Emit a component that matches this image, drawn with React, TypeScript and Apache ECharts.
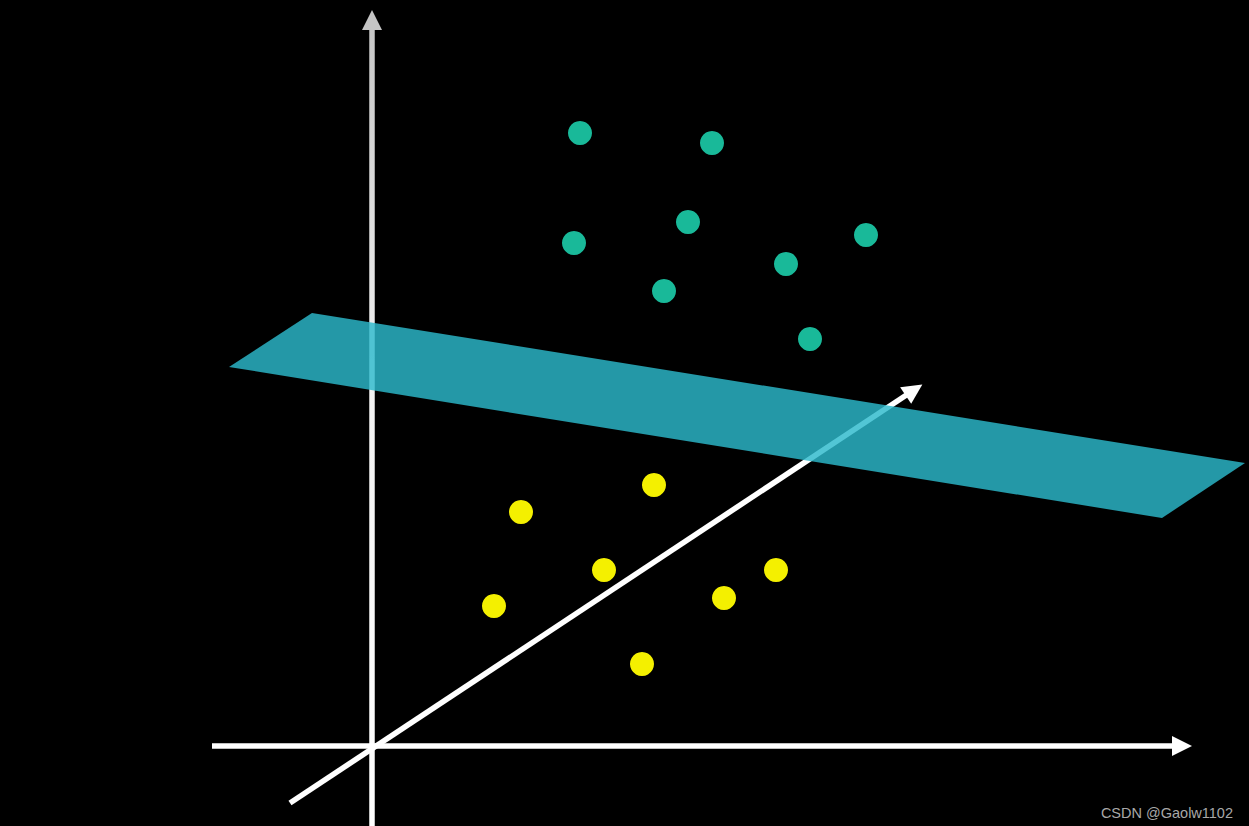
import React, { useEffect, useRef } from "react";
import * as echarts from "echarts";

// Data (pixel-space coordinates of the conceptual figure)
const tealX = [580, 712, 688, 574, 866, 786, 664, 810];
const tealY = [133, 143, 222, 243, 235, 264, 291, 339];
const yellowX = [654, 521, 604, 776, 494, 724, 642];
const yellowY = [485, 512, 570, 570, 606, 598, 664];
const planeX = [312, 1245, 1162, 229];
const planeY = [313, 463, 518, 367];
const axisStartX = [372, 212, 290];
const axisStartY = [826, 746, 803];
const axisEndX = [372, 1182, 914];
const axisEndY = [20, 746, 390];

const W = 1249;
const H = 826;

export default function App() {
  const ref = useRef<HTMLDivElement>(null);
  useEffect(() => {
    document.body.style.margin = "0";
    document.body.style.background = "#000";
    const chart = echarts.init(ref.current!, null, { renderer: "svg" });
    const vGrad = new echarts.graphic.LinearGradient(
      0, 10, 0, 826,
      [
        { offset: 0, color: "#c4c4c4" },
        { offset: 0.45, color: "#f2f2f2" },
        { offset: 1, color: "#ffffff" },
      ],
      true
    );
    const axisData = axisStartX.map((x, i) => ({
      coords: [
        [x, axisStartY[i]],
        [axisEndX[i], axisEndY[i]],
      ],
      lineStyle: i === 0 ? { color: vGrad } : { color: "#ffffff" },
    }));
    chart.setOption({
      animation: false,
      backgroundColor: "#000000",
      grid: { left: 0, right: 0, top: 0, bottom: 0 },
      xAxis: { type: "value", min: 0, max: W, show: false },
      yAxis: { type: "value", min: 0, max: H, inverse: true, show: false },
      graphic: [
        {
          type: "text",
          right: 16,
          bottom: 6,
          style: {
            text: "CSDN @Gaolw1102",
            fill: "#a8a8a8",
            font: "14.5px 'Liberation Sans', Arial, sans-serif",
          },
        },
      ],
      series: [
        {
          type: "lines",
          coordinateSystem: "cartesian2d",
          symbol: ["none", "triangle"],
          symbolSize: [18, 20],
          lineStyle: { width: 5.5, opacity: 1, curveness: 0 },
          data: axisData,
          z: 1,
        },
        {
          type: "custom",
          data: planeX.map((x, i) => [x, planeY[i]]),
          renderItem: (params: any, api: any) => {
            if (params.dataIndex !== 0) return null;
            const pts = planeX.map((x, i) => api.coord([x, planeY[i]]));
            return {
              type: "polygon",
              shape: { points: pts },
              style: { fill: "rgba(44,186,204,0.82)" },
            };
          },
          z: 2,
        },
        {
          type: "scatter",
          data: tealX.map((x, i) => [x, tealY[i]]),
          symbolSize: 24,
          itemStyle: { color: "#19b999", opacity: 1 },
          z: 3,
        },
        {
          type: "scatter",
          data: yellowX.map((x, i) => [x, yellowY[i]]),
          symbolSize: 24,
          itemStyle: { color: "#f4f000", opacity: 1 },
          z: 3,
        },
      ],
    });
    return () => chart.dispose();
  }, []);
  return <div ref={ref} style={{ width: W, height: H }} />;
}
